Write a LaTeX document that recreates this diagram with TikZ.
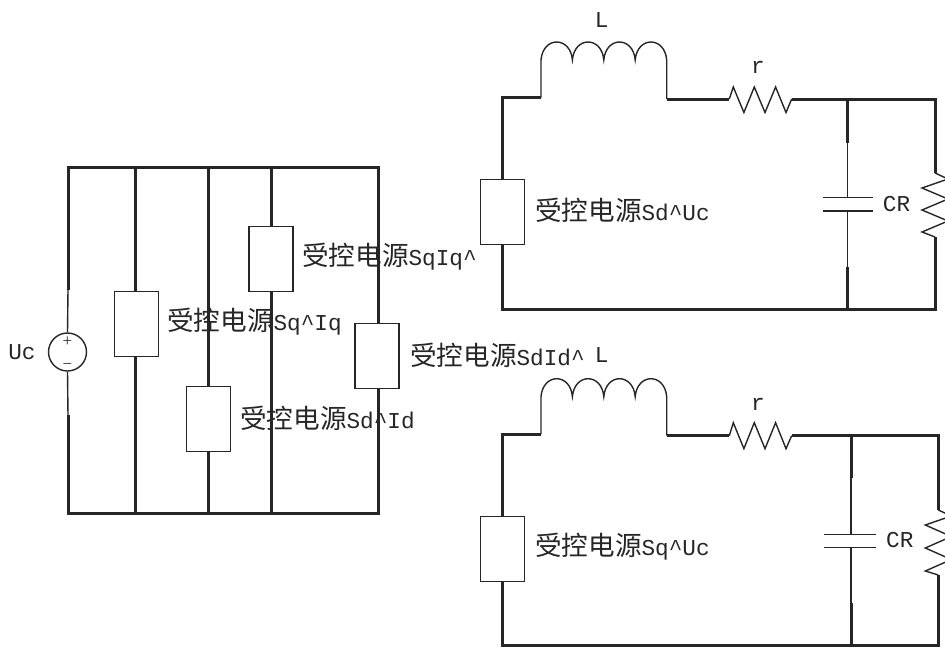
\documentclass[tikz,border=0pt]{standalone}
\usepackage{fontspec}
\setmainfont{Liberation Serif}
\setmonofont{Liberation Mono}
\newfontfamily\cjk{Noto Sans CJK SC}
\newcommand{\skdy}{{\cjk\fontsize{26.6}{28}\selectfont 受控电源}}
\newcommand{\crt}{\textasciicircum}
\tikzset{
  wirethick/.style={line width=3pt,black!85,line join=miter},
  wirethin/.style={line width=1.4pt,black!85},
  srcbox/.style={draw=black!85,line width=1.4pt,fill=white,minimum width=44pt,minimum height=65pt,inner sep=0pt},
  lbl/.style={inner sep=0pt,font=\ttfamily\fontsize{22.7}{24}\selectfont,text=black!85},
  lblw/.style={lbl,anchor=west},
  vsrc/.style={circle,draw=black!85,line width=1.4pt,minimum size=38pt,inner sep=0pt},
  sgn/.style={inner sep=0pt,font=\fontsize{17}{18}\selectfont,text=black!85}
}
\begin{document}
\begin{tikzpicture}[x=1pt,y=-1pt]
\useasboundingbox (0,0) rectangle (945,648);
\clip (0,0) rectangle (945,648);
% ---------- left circuit
\coordinate (t1) at (68,167); \coordinate (t2) at (135.7,167); \coordinate (t3) at (208.5,167);
\coordinate (t4) at (271,167); \coordinate (t5) at (378,167);
\coordinate (b1) at (68,513); \coordinate (b2) at (135.7,513); \coordinate (b3) at (208.5,513);
\coordinate (b4) at (271,513); \coordinate (b5) at (378,513);
\coordinate (s1) at (68,290); \coordinate (s2) at (68,415);
\node[vsrc] (uc) at (67.5,352) {};
\node[sgn] (ucp) at (67.5,342) {+};
\node[sgn] (ucm) at (67.5,366) {−};
\node[srcbox] (q1) at (136.5,323.7) {};
\node[srcbox] (q2) at (208.5,419) {};
\node[srcbox] (q3) at (271,259) {};
\node[srcbox] (q4) at (377,356) {};
\draw[wirethin] (s1) -- (uc.north);
\draw[wirethin] (uc.south) -- (s2);
\draw[wirethick] (s1) -- (t1) -- (t5) -- (q4.north -| t5);
\draw[wirethick] (q4.south -| t5) -- (b5) -- (b1) -- (s2);
\draw[wirethick] (t2) -- (q1.north -| t2);
\draw[wirethick] (q1.south -| t2) -- (b2);
\draw[wirethick] (t3) -- (q2.north);
\draw[wirethick] (q2.south) -- (b3);
\draw[wirethick] (t4) -- (q3.north);
\draw[wirethick] (q3.south) -- (b4);
\node[lbl] (luc) at (22,352) {Uc};
\node[lblw] (l1) at (167,322) {\skdy Sq\crt Iq};
\node[lblw] (l2) at (240,418) {\skdy Sd\crt Id};
\node[lblw] (l3) at (302,257) {\skdy SqIq\crt};
\node[lblw] (l4) at (410,355) {\skdy SdId\crt};
% ---------- upper right circuit
\node[srcbox] (u1) at (502.7,212) {};
\coordinate (ua) at (541,97.7); \coordinate (ub) at (541,60);
\coordinate (uc1) at (572.4,60); \coordinate (uc2) at (603.8,60); \coordinate (uc3) at (635.2,60); \coordinate (ud) at (666.7,60);
\coordinate (ue) at (666.7,99); \coordinate (uf) at (729.3,99); \coordinate (ug) at (791.7,99);
\coordinate (uh) at (847.7,99); \coordinate (ui) at (935,99);
\coordinate (uj) at (935,173); \coordinate (uk) at (935,237); \coordinate (ul) at (502.7,309);
\coordinate (um) at (847.7,309); \coordinate (un) at (935,309);
\coordinate (up) at (847.7,143); \coordinate (uq) at (847.7,197.7); \coordinate (ur) at (847.7,211); \coordinate (us) at (847.7,267);
\coordinate (ucl) at (822.7,197.7); \coordinate (ucr) at (872.7,197.7);
\coordinate (udl) at (822.7,211); \coordinate (udr) at (872.7,211);
\draw[wirethick] (u1.north) |- (ua);
\draw[wirethin] (ua) -- (ub) .. controls +(2,-24) and +(-2,-24) .. (uc1) .. controls +(2,-24) and +(-2,-24) .. (uc2) .. controls +(2,-24) and +(-2,-24) .. (uc3) .. controls +(2,-24) and +(-2,-24) .. (ud) -- (ue);
\draw[wirethick] (ue) -- (uf);
\draw[wirethin] (uf) -- ++(4,-12) -- ++(10.6,25.5) -- ++(10.4,-25.5) -- ++(10.7,25.5) -- ++(10.6,-25.5) -- ++(10.4,25.5) -- (ug);
\draw[wirethick] (ug) -- (ui) -- (uj);
\draw[wirethin] (uj) -- ++(13,6) -- ++(-26,9) -- ++(26,11) -- ++(-26,11) -- ++(26,11) -- ++(-26,11) -- (uk);
\draw[wirethick] (uk) -- (un) -- (ul) -- (u1.south);
\draw[wirethick] (uh) -- (up);
\draw[wirethin] (up) -- (uq);
\draw[wirethin] (ur) -- (us);
\draw[wirethick] (us) -- (um);
\draw[wirethin] (ucl) -- (ucr);
\draw[wirethin] (udl) -- (udr);
\node[lbl] (lL1) at (601.7,20) {L};
\node[lbl] (lr1) at (758,67) {r};
\node[lblw] (l5) at (535,210) {\skdy Sd\crt Uc};
\node[lblw] (lc1) at (882.7,204) {CR};
% ---------- lower right circuit
\node[srcbox] (v1) at (502.7,549) {};
\coordinate (va) at (541,434.3); \coordinate (vb) at (541,396.7);
\coordinate (vc1) at (572.4,396.7); \coordinate (vc2) at (603.8,396.7); \coordinate (vc3) at (635.2,396.7); \coordinate (vd) at (666.7,396.7);
\coordinate (ve) at (666.7,435.7); \coordinate (vf) at (729.3,435.7); \coordinate (vg) at (791.7,435.7);
\coordinate (vh) at (851,435.7); \coordinate (vi) at (938.3,435.7);
\coordinate (vj) at (938.3,510); \coordinate (vk) at (938.3,575); \coordinate (vl) at (502.7,645);
\coordinate (vm) at (851,645); \coordinate (vn) at (938.3,645);
\coordinate (vp) at (851,478); \coordinate (vq) at (851,534.3); \coordinate (vr) at (851,547.7); \coordinate (vs) at (851,603);
\coordinate (vcl) at (824,534.3); \coordinate (vcr) at (876,534.3);
\coordinate (vdl) at (824,547.7); \coordinate (vdr) at (876,547.7);
\draw[wirethick] (v1.north) |- (va);
\draw[wirethin] (va) -- (vb) .. controls +(2,-24) and +(-2,-24) .. (vc1) .. controls +(2,-24) and +(-2,-24) .. (vc2) .. controls +(2,-24) and +(-2,-24) .. (vc3) .. controls +(2,-24) and +(-2,-24) .. (vd) -- (ve);
\draw[wirethick] (ve) -- (vf);
\draw[wirethin] (vf) -- ++(4,-13) -- ++(10.6,26) -- ++(10.4,-26) -- ++(10.7,26) -- ++(10.6,-26) -- ++(10.4,26) -- (vg);
\draw[wirethick] (vg) -- (vi) -- (vj);
\draw[wirethin] (vj) -- ++(13,6) -- ++(-26,9) -- ++(26,11.5) -- ++(-26,11.5) -- ++(26,11.5) -- ++(-26,11.5) -- (vk);
\draw[wirethick] (vk) -- (vn) -- (vl) -- (v1.south);
\draw[wirethick] (vh) -- (vp);
\draw[wirethin] (vp) -- (vq);
\draw[wirethin] (vr) -- (vs);
\draw[wirethick] (vs) -- (vm);
\draw[wirethin] (vcl) -- (vcr);
\draw[wirethin] (vdl) -- (vdr);
\node[lbl] (lL2) at (601.7,355) {L};
\node[lbl] (lr2) at (758,404) {r};
\node[lblw] (l6) at (535,547) {\skdy Sq\crt Uc};
\node[lblw] (lc2) at (886,540) {CR};
\end{tikzpicture}
\end{document}
